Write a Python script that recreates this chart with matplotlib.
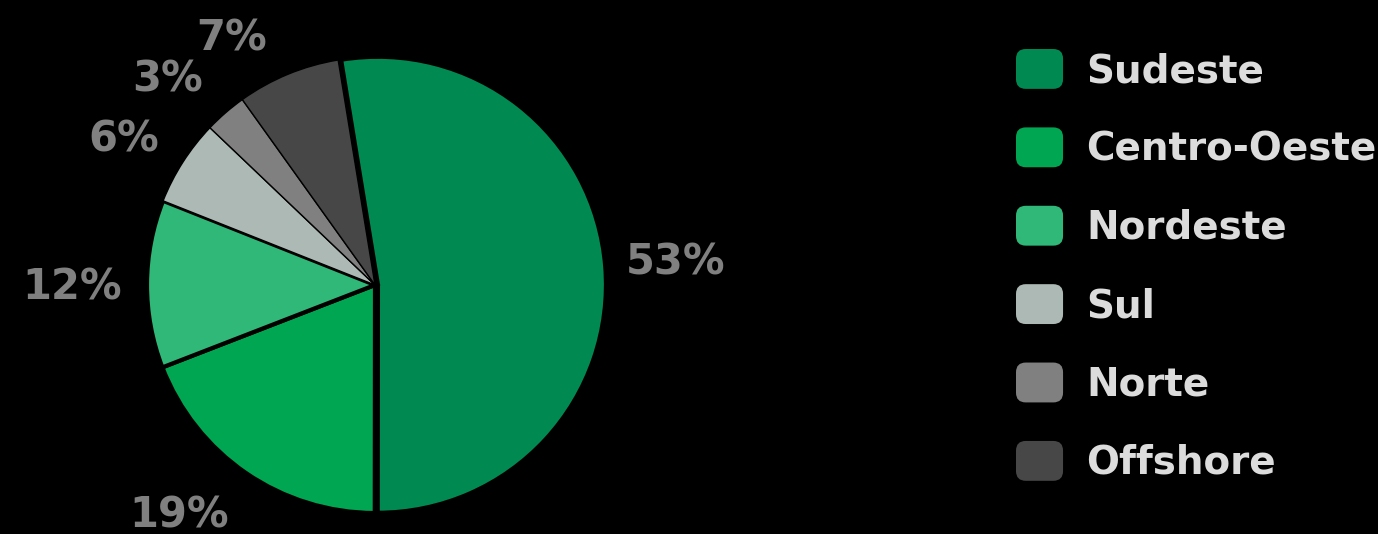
import matplotlib.pyplot as plt
from matplotlib.patches import FancyBboxPatch
from matplotlib.legend_handler import HandlerPatch

# Data (shares; labels show them rounded)
regions = ["Sudeste", "Centro-Oeste", "Nordeste", "Sul", "Norte", "Offshore"]
shares = [52.6, 19.1, 11.9, 6.1, 3.0, 7.3]
colors = ["#008a52", "#00a651", "#2fb877", "#adb9b4", "#808080", "#474747"]

# label spots (pie radius units), small slices nudged like the original
label_pos = [(1.32, 0.10), (-0.86, -1.01), (-1.33, -0.01),
             (-1.10, 0.64), (-0.91, 0.90), (-0.63, 1.08)]
edge_widths = [3, 3, 3, 1, 1, 1]


class RoundBox(HandlerPatch):
    def create_artists(self, legend, orig_handle, xdescent, ydescent,
                       width, height, fontsize, trans):
        p = FancyBboxPatch((-xdescent + 3, -ydescent + 3), width - 6, height - 6,
                           boxstyle="round,pad=3,rounding_size=7",
                           facecolor=orig_handle.get_facecolor(),
                           edgecolor="none", transform=trans)
        return [p]


fig = plt.figure(figsize=(13.78, 5.34), dpi=100, facecolor="black")
ax = fig.add_axes([0, 0, 1, 1])
ax.set_facecolor("black")

wedges, _ = ax.pie(shares, colors=colors, startangle=99.3, counterclock=False,
                   explode=[0.013, 0, 0, 0, 0, 0],
                   wedgeprops=dict(edgecolor="black"))
for w, lw in zip(wedges, edge_widths):
    w.set_linewidth(lw)

for (x, y), v in zip(label_pos, shares):
    ax.text(x, y, f"{v:.0f}%", ha="center", va="center", fontsize=30,
            fontweight="bold", color="#808080")

r = 228.0
ax.set_xlim(-375 / r, (1378 - 375) / r)
ax.set_ylim(-(534 - 285) / r, 285 / r)
ax.set_aspect("auto")
ax.axis("off")

leg = ax.legend(wedges, regions, loc="upper left", bbox_to_anchor=(1016 / 1378, 1 - 49 / 534),
                frameon=False, handlelength=1.21, handleheight=1.2,
                handletextpad=0.6, labelspacing=0.96, borderaxespad=0, borderpad=0,
                prop=dict(weight="bold", size=28),
                handler_map={w: RoundBox() for w in wedges})
for t in leg.get_texts():
    t.set_color("#dcdcdc")

plt.savefig("out.png", dpi=100, facecolor="black")
